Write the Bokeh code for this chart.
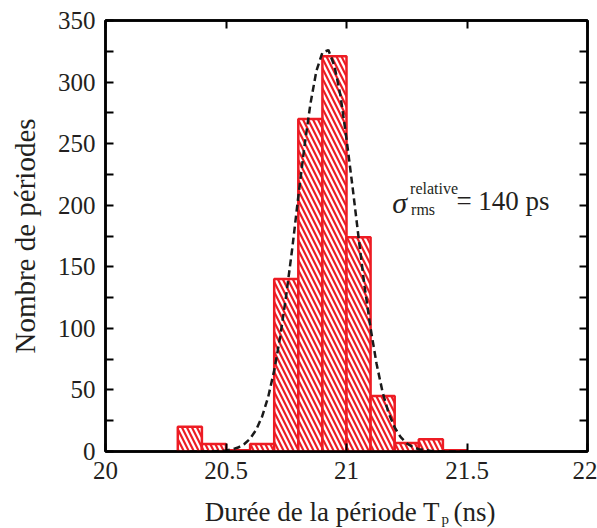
from bokeh.plotting import figure
from bokeh.models import Range1d, FixedTicker, LinearAxis, Label
from bokeh.layouts import column
from bokeh.embed import file_html
from bokeh.resources import INLINE

# --- data ---
bin_edges = [20.3, 20.4, 20.5, 20.6, 20.7, 20.8, 20.9, 21.0, 21.1, 21.2, 21.3, 21.4, 21.5]
counts = [20, 6, 1, 6, 140, 270, 321, 174, 45, 7, 10, 1]

fit_x = [20.35, 20.40, 20.45, 20.50, 20.525, 20.55, 20.575, 20.60, 20.625, 20.65, 20.675,
         20.70, 20.725, 20.75, 20.775, 20.80, 20.825, 20.85, 20.875, 20.90, 20.925,
         20.95, 20.975, 21.00, 21.025, 21.05, 21.075, 21.10, 21.125, 21.15, 21.175,
         21.20, 21.225, 21.25, 21.275, 21.30, 21.35, 21.40, 21.55]
fit_y = [0, 0, 0.2, 0.8, 1.7, 3.2, 5.9, 10.4, 17.6, 28.5, 44.3,
         65.7, 93.4, 127, 165, 207, 247, 282, 309, 324, 326,
         313, 289, 254, 215, 174, 134, 100, 71, 48, 31,
         19.5, 11.6, 6.6, 3.6, 1.9, 0.5, 0.1, 0]

x_ticks = [20, 20.5, 21, 21.5, 22]
y_ticks = [0, 50, 100, 150, 200, 250, 300, 350]
y_minor = [25, 75, 125, 175, 225, 275, 325]

RED = "#ed1c24"
TXT = "#231f20"
FONT = "Liberation Serif"

p = figure(width=597, height=490, x_range=Range1d(20, 22), y_range=Range1d(0, 350),
           output_backend="svg", toolbar_location=None,
           min_border_left=105, min_border_right=10, min_border_top=20, min_border_bottom=39)
p.grid.visible = False
p.outline_line_color = "black"
p.outline_line_width = 2.5

p.quad(left=bin_edges[:-1], right=bin_edges[1:], bottom=0, top=counts,
       fill_color="white", line_color=RED, line_width=2.5,
       hatch_pattern="\\", hatch_color=RED, hatch_scale=10, hatch_weight=2.2)

p.line(fit_x, fit_y, line_dash="7 4", line_width=2.5, line_color="#1a1a1a")

p.add_layout(LinearAxis(), "above")
p.add_layout(LinearAxis(), "right")

for ax in p.xaxis:
    ax.ticker = FixedTicker(ticks=x_ticks, minor_ticks=[])
for ax in p.yaxis:
    ax.ticker = FixedTicker(ticks=y_ticks, minor_ticks=y_minor)

for ax in p.axis:
    ax.axis_line_width = 2.5
    ax.axis_line_color = "black"
    ax.major_tick_in = 8
    ax.major_tick_out = 0
    ax.minor_tick_in = 8
    ax.minor_tick_out = 0
    ax.major_tick_line_width = 2
    ax.minor_tick_line_width = 2
    ax.major_label_text_font = FONT
    ax.major_label_text_font_size = "25px"
    ax.major_label_text_color = TXT
    ax.major_label_standoff = 10

p.above[0].major_label_overrides = {t: "" for t in x_ticks}
p.right[0].major_label_overrides = {t: "" for t in y_ticks}

p.yaxis[0].axis_label = "Nombre de périodes"
p.yaxis[0].axis_label_text_font = FONT
p.yaxis[0].axis_label_text_font_size = "29px"
p.yaxis[0].axis_label_text_font_style = "normal"
p.yaxis[0].axis_label_text_color = TXT
p.yaxis[0].axis_label_standoff = 14


def lab(fig, x, y, t, size, align="left", style="normal"):
    fig.add_layout(Label(x=x, y=y, text=t, text_font=FONT, text_font_size=size,
                         text_align=align, text_baseline="alphabetic",
                         text_font_style=style, text_color=TXT))


# annotation
lab(p, 21.19, 202.2, "σ", "30px", style="italic")
lab(p, 21.264, 213.6, "relative", "16px")
lab(p, 21.268, 196.5, "rms", "16px")
lab(p, 21.456, 203.8, "= 140 ps", "27px")

# x-axis title strip (with subscript)
p2 = figure(width=597, height=38, x_range=p.x_range, y_range=Range1d(0, 1),
            output_backend="svg", toolbar_location=None,
            x_axis_location=None, y_axis_location=None,
            min_border_left=105, min_border_right=10, min_border_top=0, min_border_bottom=0)
p2.grid.visible = False
p2.outline_line_color = None
lab(p2, 21.388, 0.447, "Durée de la période T", "27px", align="right")
lab(p2, 21.394, 0.263, "p", "15px")
lab(p2, 21.444, 0.447, "(ns)", "27px")

layout = column(p, p2, spacing=0)
open("out.html", "w").write(file_html(layout, INLINE))
